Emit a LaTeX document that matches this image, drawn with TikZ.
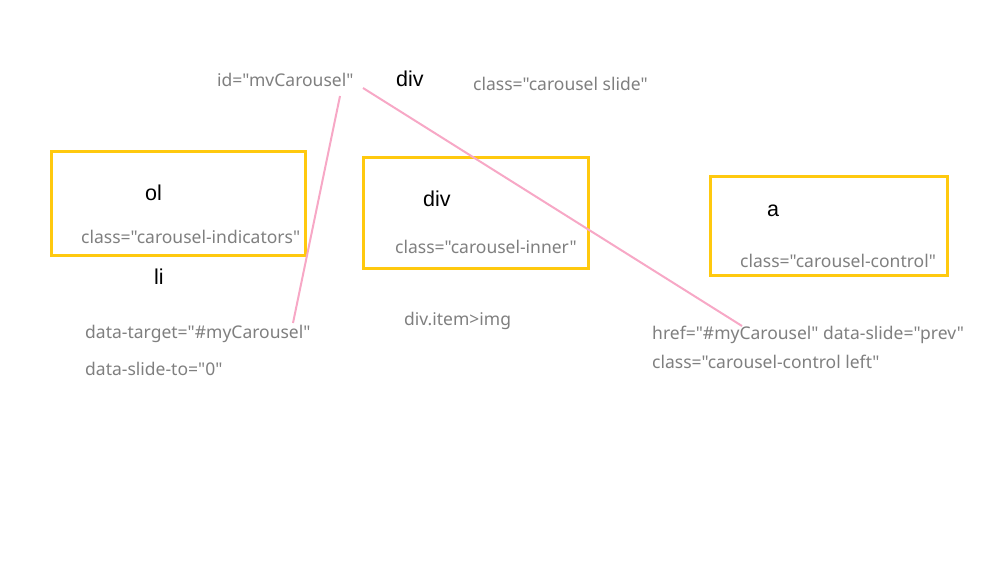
\documentclass[tikz,border=0pt]{standalone}
\usepackage{fontspec}
\newfontfamily\attrfont{Noto Sans}
\newfontfamily\tagfont{Liberation Sans}
\definecolor{boxyellow}{HTML}{FFC90E}
\definecolor{linkpink}{HTML}{F7A8C6}
\definecolor{attrgray}{HTML}{7F7F7F}
\begin{document}
\begin{tikzpicture}[x=1pt,y=-1pt,
  attr/.style={anchor=west,inner sep=0pt,text=attrgray,font=\attrfont\fontsize{17.5}{20}\selectfont,text height=12pt,text depth=4pt},
  tag/.style={anchor=west,inner sep=0pt,text=black,font=\tagfont\fontsize{21.5}{25}\selectfont,text height=14pt,text depth=4pt},
  ybox/.style={draw=boxyellow,line width=3pt},
  link/.style={draw=linkpink,line width=2pt}]
\useasboundingbox (0,0) rectangle (981,575);
% boxes
\draw[ybox] (51,151) rectangle (305,255);
\draw[ybox] (363,157) rectangle (588,268);
\draw[ybox] (710,176) rectangle (947,275);
% top texts
\node[attr] (id) at (217,83) {id="mvCarousel"};
\node[tag] (div1) at (396,82) {div};
\node[attr] (cls) at (473,87) {class="carousel slide"};
% left
\node[tag] (ol) at (145,195) {ol};
\node[attr] (ind) at (81,239) {class="carousel-indicators"};
\node[tag] (li) at (154,279) {li};
\node[attr] (dt) at (85,334) {data-target="\#myCarousel"};
\node[attr] (ds) at (85,371) {data-slide-to="0"};
% middle
\node[tag] (div2) at (423,201) {div};
\node[attr] (inner) at (395,249) {class="carousel-inner"};
\node[attr] (item) at (404,321) {div.item>img};
% right
\node[tag] (a) at (767,211) {a};
\node[attr] (ctrl) at (740,263) {class="carousel-control"};
\node[attr] (href) at (652,335) {href="\#myCarousel" data-slide="prev"};
\node[attr] (left) at (652,364) {class="carousel-control left"};
% connectors
\coordinate (p1) at (340,96);
\coordinate (q1) at (293,323);
\coordinate (p2) at (363,88);
\coordinate (q2) at (742,326);
\draw[link] (p1) -- (q1);
\draw[link] (p2) -- (q2);
\end{tikzpicture}
\end{document}
